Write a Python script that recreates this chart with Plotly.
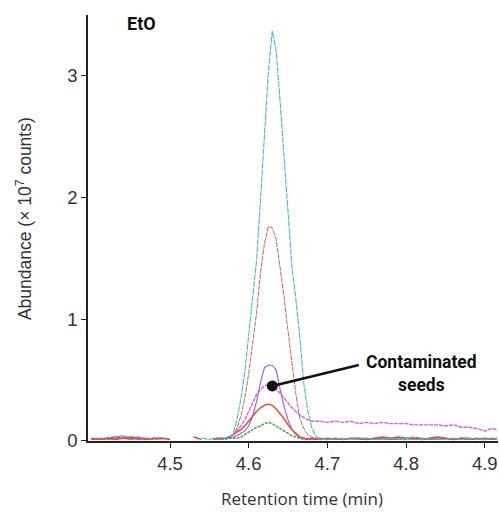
import plotly.graph_objects as go

# Retention times (min): coarse steps on the baseline, finer steps across the peak
T = [4.40, 4.41, 4.42, 4.43, 4.44, 4.45, 4.46, 4.47, 4.48, 4.49, 4.50, 4.51, 4.52, 4.53, 4.54, 4.55,
     4.555, 4.56, 4.565, 4.57, 4.575, 4.58, 4.585, 4.59, 4.595, 4.60, 4.605, 4.61, 4.615, 4.62,
     4.625, 4.63, 4.635, 4.64, 4.645, 4.65, 4.655, 4.66, 4.665, 4.67, 4.675, 4.68, 4.685,
     4.69, 4.70, 4.71, 4.72, 4.73, 4.74, 4.75, 4.76, 4.77, 4.78, 4.79, 4.80, 4.81, 4.82, 4.83,
     4.84, 4.85, 4.86, 4.87, 4.88, 4.89, 4.90, 4.91, 4.915]

N = None
# Abundance (x 10^7 counts) for each extracted-ion trace
CYAN = [N, N, N, N, N, N, N, N, N, N, N, N, N, N, 0.02, 0.01,
        0.02, 0.01, 0.02, 0.02, 0.03, 0.05, 0.17, 0.34, 0.56, 0.85, 1.17, 1.48, 1.98, 2.52,
        3.03, 3.37, 3.20, 2.78, 2.33, 1.85, 1.43, 1.16, 0.85, 0.47, 0.25, 0.11, 0.04,
        0.01, 0.01, 0.02, 0.01, 0.02, 0.01, 0.02, 0.01, 0.01, 0.02, 0.01, 0.02, 0.01, 0.01, 0.02,
        0.01, 0.01, 0.02, 0.01, 0.02, 0.01, 0.01, 0.02, 0.01]
RED_DASH = [N, N, N, N, 0.02, 0.01, 0.02, N, N, N, N, N, N, N, N, N,
            0.01, 0.02, 0.01, 0.02, 0.03, 0.05, 0.10, 0.20, 0.35, 0.55, 0.78, 1.05, 1.38, 1.62,
            1.76, 1.75, 1.65, 1.42, 1.18, 0.90, 0.62, 0.38, 0.18, 0.10, 0.05, 0.03, 0.02,
            0.01, 0.02, 0.01, 0.02, 0.01, 0.02, 0.02, 0.01, 0.02, 0.01, 0.02, 0.02, 0.03, 0.02, 0.01,
            0.02, 0.01, 0.02, 0.01, 0.01, 0.02, 0.01, 0.01, 0.02]
PURPLE = [N, N, 0.02, 0.03, 0.04, 0.02, 0.01, 0.02, N, N, N, N, N, N, N, N,
          0.01, 0.02, 0.01, 0.02, 0.02, 0.03, 0.04, 0.06, 0.08, 0.12, 0.20, 0.32, 0.48, 0.60,
          0.62, 0.62, 0.58, 0.42, 0.28, 0.17, 0.09, 0.05, 0.03, 0.02, 0.02, 0.01, 0.02,
          0.01, 0.02, 0.01, 0.01, 0.02, 0.01, 0.02, 0.01, 0.02, 0.01, 0.01, 0.02, 0.01, 0.02, 0.01,
          0.01, 0.02, 0.01, 0.02, 0.01, 0.01, 0.02, 0.01, 0.01]
MAGENTA = [0.01, 0.01, 0.02, 0.03, 0.02, 0.02, 0.03, 0.01, 0.02, 0.01, N, N, N, N, N, N,
           0.02, 0.01, 0.02, 0.02, 0.03, 0.05, 0.08, 0.12, 0.17, 0.24, 0.32, 0.38, 0.42, 0.45,
           0.46, 0.45, 0.42, 0.39, 0.35, 0.31, 0.27, 0.24, 0.21, 0.19, 0.17, 0.16, 0.16,
           0.16, 0.15, 0.16, 0.15, 0.16, 0.14, 0.15, 0.14, 0.15, 0.14, 0.14, 0.14, 0.13, 0.13, 0.13,
           0.13, 0.12, 0.13, 0.11, 0.11, 0.10, 0.08, 0.10, 0.09]
RED = [0.02, 0.01, 0.02, 0.01, 0.02, 0.03, 0.02, 0.01, 0.02, 0.02, 0.01, N, N, 0.03, 0.01, N,
       0.01, 0.02, 0.02, 0.02, 0.03, 0.05, 0.07, 0.09, 0.12, 0.16, 0.20, 0.24, 0.27, 0.29,
       0.30, 0.29, 0.26, 0.22, 0.18, 0.13, 0.09, 0.06, 0.03, 0.02, 0.01, 0.02, 0.01,
       0.02, 0.01, 0.02, 0.01, 0.02, 0.02, 0.01, 0.02, 0.03, 0.02, 0.03, 0.02, 0.02, 0.01, 0.02,
       0.03, 0.02, 0.01, 0.02, 0.02, 0.01, 0.02, 0.01, 0.02]
GREEN = [0.01, 0.02, 0.01, 0.02, 0.02, 0.01, 0.02, 0.02, 0.01, 0.02, 0.01, N, N, N, N, N,
         0.01, 0.01, 0.02, 0.01, 0.02, 0.02, 0.02, 0.03, 0.05, 0.07, 0.09, 0.11, 0.12, 0.14,
         0.15, 0.14, 0.12, 0.10, 0.08, 0.06, 0.04, 0.03, 0.02, 0.01, 0.01, 0.02, 0.01,
         0.01, 0.02, 0.01, 0.01, 0.02, 0.01, 0.01, 0.02, 0.01, 0.02, 0.01, 0.01, 0.02, 0.01, 0.02,
         0.01, 0.02, 0.01, 0.02, 0.01, 0.02, 0.01, 0.02, 0.01]

X_TICKS = [4.5, 4.6, 4.7, 4.8, 4.9]
Y_TICKS = [0, 1, 2, 3]

traces = [
    (MAGENTA, "#d85ee4", 1.4, "4px,1px"),
    (PURPLE, "#a552ea", 1.1, "solid"),
    (GREEN, "#3fa63f", 1.4, "3px,1px"),
    (RED, "#e8443c", 1.4, "solid"),
    (RED_DASH, "#c8625c", 1.0, "5px,1px"),
    (CYAN, "#45b8d8", 1.1, "6px,1px"),
]

fig = go.Figure()
for vals, color, w, dash in traces:
    fig.add_trace(go.Scatter(
        x=T, y=vals, mode="lines", connectgaps=False,
        line=dict(color=color, width=w, dash=dash),
        hoverinfo="skip", showlegend=False,
    ))

# pointer dot sits on the magenta trace at 4.63 min
i_dot = T.index(4.63)
dot_x, dot_y = T[i_dot], MAGENTA[i_dot]
fig.add_trace(go.Scatter(
    x=[dot_x, 4.740], y=[dot_y, 0.622], mode="lines",
    line=dict(color="#111111", width=2.6), hoverinfo="skip", showlegend=False,
))
fig.add_trace(go.Scatter(
    x=[dot_x], y=[dot_y], mode="markers",
    marker=dict(color="#111111", size=11), hoverinfo="skip", showlegend=False,
))

tick_font = dict(family="Liberation Sans, Arial, sans-serif", size=18.5, color="#333333")

fig.update_layout(
    width=499, height=512,
    margin=dict(l=88, r=1, t=15, b=71),
    paper_bgcolor="white", plot_bgcolor="white",
    xaxis=dict(
        range=[4.3958, 4.9168], tickvals=X_TICKS, ticktext=[f"{v:.1f}" for v in X_TICKS],
        ticks="outside", ticklen=5, tickwidth=1.2, tickcolor="#222222",
        showline=True, linecolor="#222222", linewidth=1.6, showgrid=False, zeroline=False,
        tickfont=tick_font,
    ),
    yaxis=dict(
        range=[-0.003, 3.5], tickvals=Y_TICKS, ticktext=[str(v) for v in Y_TICKS],
        ticks="outside", ticklen=5, tickwidth=1.2, tickcolor="#222222",
        showline=True, linecolor="#222222", linewidth=1.6, showgrid=False, zeroline=False,
        tickfont=tick_font,
    ),
    annotations=[
        dict(text="Retention time (min)", xref="paper", yref="paper", x=0.522, y=-0.136,
             xanchor="center", yanchor="middle", showarrow=False,
             font=dict(family="Open Sans, sans-serif", size=17, color="#333333")),
        dict(text="Abundance (× 10<sup>7</sup> counts)", xref="paper", yref="paper",
             x=-0.156, y=0.521, xanchor="center", yanchor="middle", textangle=-90,
             showarrow=False,
             font=dict(family="Liberation Sans, Arial, sans-serif", size=17.5, color="#333333")),
        dict(text="<b>EtO</b>", xref="paper", yref="paper", x=0.13, y=0.98,
             xanchor="center", yanchor="middle", showarrow=False,
             font=dict(family="Roboto, sans-serif", size=18, color="#111111")),
        dict(text="<b>Contaminated</b><br><b>seeds</b>", xref="x", yref="y",
             x=4.8198, y=0.548, xanchor="center", yanchor="middle", showarrow=False,
             align="center",
             font=dict(family="Roboto, sans-serif", size=17.5, color="#111111")),
    ],
)

fig.write_html("out.html")
